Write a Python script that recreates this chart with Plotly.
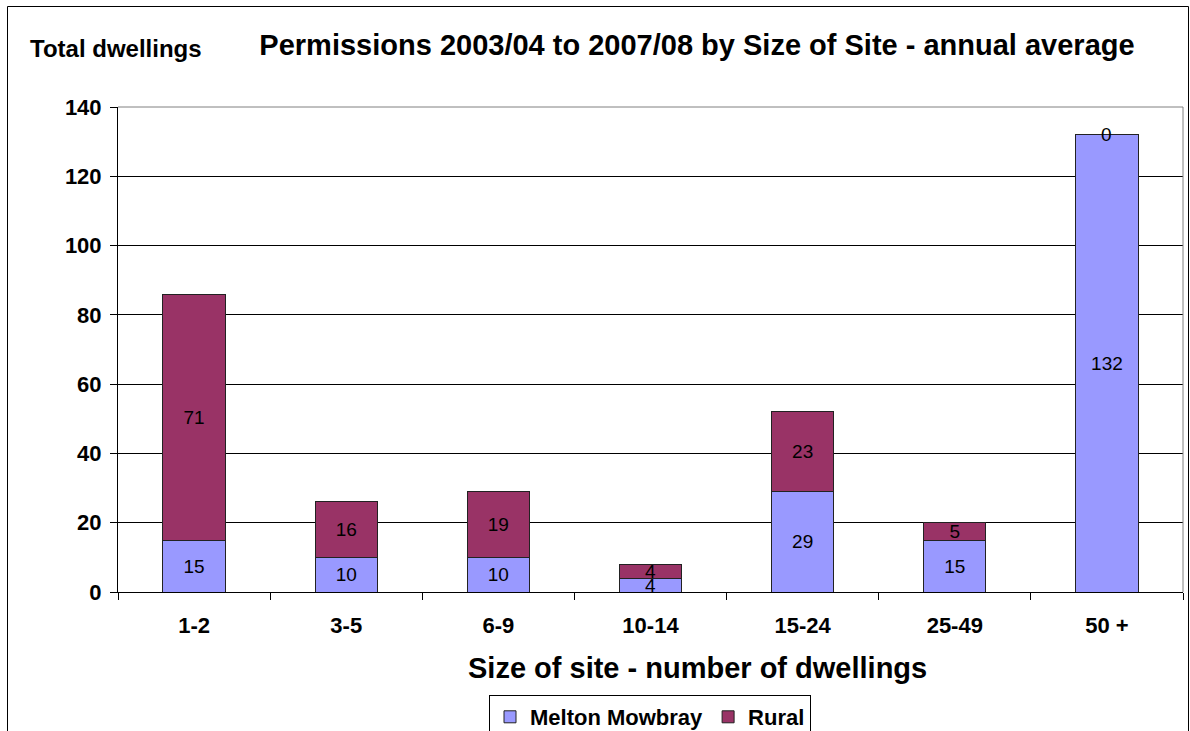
import plotly.graph_objects as go

# Planning permissions, annual average dwellings by size of site
categories = ["1-2", "3-5", "6-9", "10-14", "15-24", "25-49", "50 +"]
melton_mowbray = [15, 10, 10, 4, 29, 15, 132]
rural = [71, 16, 19, 4, 23, 5, 0]

y_ticks = [0, 20, 40, 60, 80, 100, 120, 140]

BLUE = "#9999FF"
PLUM = "#993366"
FONT = "Liberation Sans, Arial, sans-serif"

# plot-area geometry in pixels (figure is 1190 x 731)
W, H = 1190, 731
L, R, T, B = 118, 7, 107, 139
pw, ph = W - L - R, H - T - B


def px_to_paper_x(px):
    return (px - L) / pw


def px_to_paper_y(py):
    return (H - B - py) / ph


def bar_text(values):
    return [str(v) if v != 0 else "" for v in values]


fig = go.Figure()
for name, vals, color in [("Melton Mowbray", melton_mowbray, BLUE), ("Rural", rural, PLUM)]:
    fig.add_trace(go.Bar(
        name=name,
        x=categories,
        y=vals,
        text=bar_text(vals),
        texttemplate="%{text}",
        textposition="inside",
        insidetextanchor="middle",
        textangle=0,
        constraintext="none",
        textfont=dict(family=FONT, size=19, color="black"),
        insidetextfont=dict(family=FONT, size=19, color="black"),
        marker=dict(color=color, line=dict(color="#222222", width=1)),
    ))

# zero-height segments get their label placed at the top of the stack
annotations = []
for i, (m, r) in enumerate(zip(melton_mowbray, rural)):
    if r == 0:
        annotations.append(dict(
            x=i, y=m + r, xref="x", yref="y", text=str(r), showarrow=False,
            font=dict(family=FONT, size=19, color="black"),
            xanchor="center", yanchor="middle",
        ))

annotations.append(dict(
    x=px_to_paper_x(28), y=px_to_paper_y(49), xref="paper", yref="paper",
    text="Total dwellings", showarrow=False, xanchor="left", yanchor="middle",
    font=dict(family=FONT, size=24, color="black", weight="bold"),
))

# x-axis title, centred under the chart rather than the plot area
annotations.append(dict(
    x=px_to_paper_x(697), y=px_to_paper_y(668), xref="paper", yref="paper",
    text="Size of site - number of dwellings", showarrow=False,
    xanchor="center", yanchor="middle",
    font=dict(family=FONT, size=29, color="black", weight="bold"),
))

shapes = [
    # top and right edges of the plot-area frame
    dict(type="path", xref="paper", yref="paper",
         path="M 0 1 L 1 1 L 1 0",
         line=dict(color="#808080", width=1), layer="above"),
    # chart-area frame
    dict(type="path", xref="paper", yref="paper",
         path=(f"M {px_to_paper_x(7.5)} {px_to_paper_y(760)} "
               f"L {px_to_paper_x(7.5)} {px_to_paper_y(6.5)} "
               f"L {px_to_paper_x(1188.5)} {px_to_paper_y(6.5)} "
               f"L {px_to_paper_x(1188.5)} {px_to_paper_y(760)}"),
         line=dict(color="black", width=1)),
]

fig.update_layout(
    width=W, height=H,
    barmode="stack",
    bargap=0.59,
    plot_bgcolor="white",
    paper_bgcolor="white",
    margin=dict(l=L, r=R, t=T, b=B, pad=0, autoexpand=False),
    font=dict(family=FONT, color="black"),
    title=dict(
        text="Permissions 2003/04 to 2007/08 by Size of Site - annual average",
        x=px_to_paper_x(697), xref="paper", xanchor="center",
        y=1 - 45 / H, yref="container", yanchor="middle",
        font=dict(family=FONT, size=29, color="black", weight="bold"),
    ),
    xaxis=dict(
        type="category",
        tickson="boundaries",
        ticks="outside", ticklen=7, tickcolor="black",
        showline=True, linecolor="black", linewidth=1,
        showgrid=False,
        automargin=False,
        tickfont=dict(family=FONT, size=22, color="black", weight="bold"),
        ticklabelstandoff=14,
    ),
    yaxis=dict(
        range=[0, 140],
        tickvals=y_ticks,
        ticks="outside", ticklen=7, tickcolor="black",
        showline=True, linecolor="black", linewidth=1,
        showgrid=True, gridcolor="black", gridwidth=1,
        zeroline=False,
        automargin=False,
        tickfont=dict(family=FONT, size=22, color="black", weight="bold"),
        ticklabelstandoff=4,
    ),
    legend=dict(
        orientation="h",
        x=px_to_paper_x(650), xanchor="center",
        y=px_to_paper_y(695), yanchor="top",
        bordercolor="black", borderwidth=1,
        font=dict(family=FONT, size=22, color="black", weight="bold"),
        traceorder="normal",
        itemwidth=30,
    ),
    uniformtext=dict(mode="show", minsize=19),
    annotations=annotations,
    shapes=shapes,
    showlegend=True,
)

fig.write_html("out.html")
